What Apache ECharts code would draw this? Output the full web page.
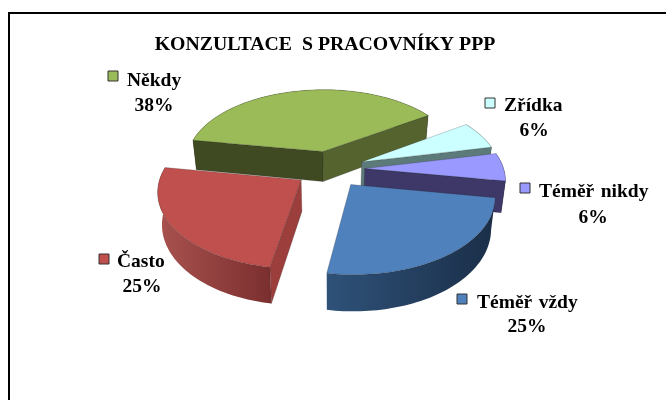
<!DOCTYPE html>
<html><head><meta charset="utf-8">
<style>html,body{margin:0;padding:0;background:#fff}#c{width:666px;height:400px}</style>
<script src="https://cdn.jsdelivr.net/npm/echarts@6/dist/echarts.min.js"></script>
</head><body><div id="c"></div>
<script>
const titleText = 'KONZULTACE  S PRACOVNÍKY PPP';
const categories = ['Téměř \u200Avždy', 'Často', 'Někdy', 'Zřídka', 'Téměř \u200Anikdy'];
const values = [25, 25, 38, 6, 6];
const topColors = ['#4F81BD', '#C0504D', '#9BBB59', '#CCFFFF', '#9999FF'];
const wallColors = [['#2f5279', '#1a2e48'], ['#a9524f', '#7a2f2e'], ['#55632f', '#3f4a22'], ['#5c7a7a', '#5c7a7a'], ['#3d3868', '#3d3868']];
const startFaceColors = ['#1a2e48', '#9c3f3c', '#3f4a22', '#5c7a7a', '#3d3868'];
const endFaceColors = ['#1a2e48', '#7a2f2e', '#55632f', '#5c7a7a', '#3d3868'];
// legend key / first text line position, then centre of the percent line
const labelLayout = [
  {key: [462, 299], text: [477, 303], pct: [527, 327]},
  {key: [104, 259], text: [117, 262], pct: [142, 287]},
  {key: [113, 76],  text: [127, 81],  pct: [154, 106]},
  {key: [490, 103], text: [504, 106], pct: [534, 131]},
  {key: [525, 188], text: [539, 192], pct: [593, 218]}
];
const scene = {cx: 330, cy: 169, A: 139, B: 74, persp: 0.13, explode: 0.25, depth: 31, bottomShrink: 0.975, startDeg: 99.5};
const labelFont = 'bold 19.5px "Liberation Serif", serif';

const total = values.reduce((a, b) => a + b, 0);
const spans = values.map(v => v / total * 360);
const starts = spans.map((_, i) => scene.startDeg + spans.slice(0, i).reduce((a, b) => a + b, 0));

function project(u, v, below) {
  const s = 1 / (1 - scene.persp * v);
  const k = below ? scene.bottomShrink : 1;
  return [scene.cx + scene.A * u * s * k, scene.cy + scene.B * v * s + (below ? scene.depth * s : 0)];
}
function polar(deg) { const r = deg * Math.PI / 180; return [Math.sin(r), -Math.cos(r)]; }

function renderItem(params, api) {
  const i = params.dataIndex;
  const val = api.value(0);
  const a0 = starts[i], a1 = a0 + val / total * 360;
  const mid = polar((a0 + a1) / 2);
  const ou = mid[0] * scene.explode, ov = mid[1] * scene.explode;
  const base = Math.round((mid[1] + 1) * 100);
  const arc = [];
  const n = 60;
  for (let k = 0; k <= n; k++) { const p = polar(a0 + (a1 - a0) * k / n); arc.push([ou + p[0], ov + p[1]]); }
  const topArc = arc.map(p => project(p[0], p[1], false));
  const botArc = arc.map(p => project(p[0], p[1], true));
  const apexT = project(ou, ov, false), apexB = project(ou, ov, true);
  const edge = 'rgba(30,30,30,0.45)';
  const wc = wallColors[i];
  const midPt = topArc[n / 2];
  const faceVisible = p => {
    const ex = p[0] - apexT[0], ey = p[1] - apexT[1];
    const mx = midPt[0] - apexT[0], my = midPt[1] - apexT[1];
    return ex * (ex * my - ey * mx) < 0;
  };
  const kids = [];
  kids.push({type: 'polygon', z2: base, shape: {points: topArc.concat(botArc.slice().reverse())},
    style: {fill: {type: 'linear', x: 0, y: 0, x2: 1, y2: 0, colorStops: [{offset: 0, color: wc[0]}, {offset: 1, color: wc[1]}]}, stroke: 'none'}});
  if (faceVisible(topArc[0])) kids.push({type: 'polygon', z2: base + 1, shape: {points: [apexT, topArc[0], botArc[0], apexB]}, style: {fill: startFaceColors[i], stroke: edge, lineWidth: 0.5}});
  if (faceVisible(topArc[n])) kids.push({type: 'polygon', z2: base + 1, shape: {points: [apexT, topArc[n], botArc[n], apexB]}, style: {fill: endFaceColors[i], stroke: edge, lineWidth: 0.5}});
  kids.push({type: 'polygon', z2: base + 2, shape: {points: [apexT].concat(topArc)}, style: {fill: topColors[i], stroke: edge, lineWidth: 0.5}});
  const L = labelLayout[i];
  kids.push({type: 'rect', z2: 500, shape: {x: L.key[0] - 5, y: L.key[1] - 5, width: 10, height: 10}, style: {fill: topColors[i], stroke: '#333', lineWidth: 1}});
  kids.push({type: 'text', z2: 500, style: {x: L.text[0], y: L.text[1], text: categories[i], font: labelFont, fill: '#000', textAlign: 'left', textVerticalAlign: 'middle'}});
  kids.push({type: 'text', z2: 500, style: {x: L.pct[0], y: L.pct[1], text: val + '%', font: labelFont, fill: '#000', textAlign: 'center', textVerticalAlign: 'middle'}});
  return {type: 'group', children: kids};
}

const chart = echarts.init(document.getElementById('c'), null, {renderer: 'canvas'});
chart.setOption({
  animation: false,
  backgroundColor: '#fff',
  title: {text: titleText, left: 320, top: 30, textAlign: 'center', textStyle: {fontFamily: 'Liberation Serif', fontWeight: 'bold', fontSize: 19.8, color: '#000'}},
  graphic: [
    {type: 'rect', shape: {x: 8, y: 12, width: 2, height: 388}, style: {fill: '#000'}, silent: true},
    {type: 'rect', shape: {x: 8, y: 12, width: 658, height: 2}, style: {fill: '#000'}, silent: true}
  ],
  series: [{type: 'custom', coordinateSystem: 'none', silent: true, renderItem, data: values.map(v => [v])}]
});
</script></body></html>
